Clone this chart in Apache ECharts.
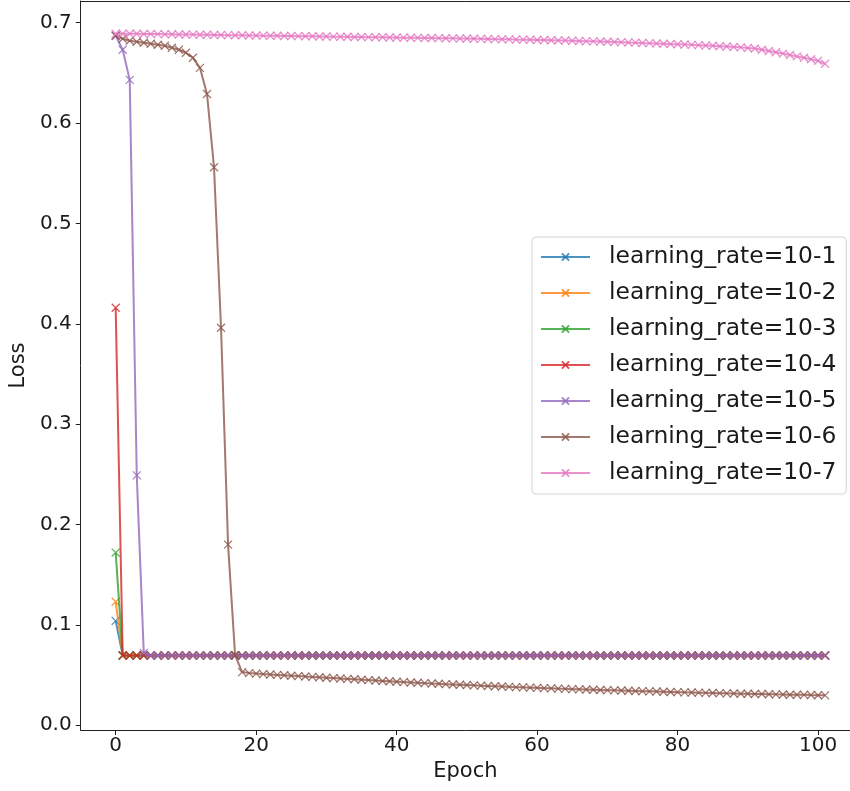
<!DOCTYPE html>
<html>
<head>
<meta charset="utf-8">
<script src="https://cdn.jsdelivr.net/npm/echarts@6/dist/echarts.min.js"></script>
<style>html,body{margin:0;padding:0;background:#fff;}#c{width:850px;height:791px;}</style>
</head>
<body>
<div id="c"></div>
<script>
const epochs = [0,1,2,3,4,5,6,7,8,9,10,11,12,13,14,15,16,17,18,19,20,21,22,23,24,25,26,27,28,29,30,31,32,33,34,35,36,37,38,39,40,41,42,43,44,45,46,47,48,49,50,51,52,53,54,55,56,57,58,59,60,61,62,63,64,65,66,67,68,69,70,71,72,73,74,75,76,77,78,79,80,81,82,83,84,85,86,87,88,89,90,91,92,93,94,95,96,97,98,99,100,101];

const seriesNames = ['learning_rate=10-1','learning_rate=10-2','learning_rate=10-3','learning_rate=10-4','learning_rate=10-5','learning_rate=10-6','learning_rate=10-7'];

const lr1 = [0.104,0.0695,0.0695,0.0695,0.0695,0.0695,0.0695,0.0695,0.0695,0.0695,0.0695,0.0695,0.0695,0.0695,0.0695,0.0695,0.0695,0.0695,0.0695,0.0695,0.0695,0.0695,0.0695,0.0695,0.0695,0.0695,0.0695,0.0695,0.0695,0.0695,0.0695,0.0695,0.0695,0.0695,0.0695,0.0695,0.0695,0.0695,0.0695,0.0695,0.0695,0.0695,0.0695,0.0695,0.0695,0.0695,0.0695,0.0695,0.0695,0.0695,0.0695,0.0695,0.0695,0.0695,0.0695,0.0695,0.0695,0.0695,0.0695,0.0695,0.0695,0.0695,0.0695,0.0695,0.0695,0.0695,0.0695,0.0695,0.0695,0.0695,0.0695,0.0695,0.0695,0.0695,0.0695,0.0695,0.0695,0.0695,0.0695,0.0695,0.0695,0.0695,0.0695,0.0695,0.0695,0.0695,0.0695,0.0695,0.0695,0.0695,0.0695,0.0695,0.0695,0.0695,0.0695,0.0695,0.0695,0.0695,0.0695,0.0695,0.0695,0.0695];
const lr2 = [0.123,0.0695,0.0695,0.0695,0.0695,0.0695,0.0695,0.0695,0.0695,0.0695,0.0695,0.0695,0.0695,0.0695,0.0695,0.0695,0.0695,0.0695,0.0695,0.0695,0.0695,0.0695,0.0695,0.0695,0.0695,0.0695,0.0695,0.0695,0.0695,0.0695,0.0695,0.0695,0.0695,0.0695,0.0695,0.0695,0.0695,0.0695,0.0695,0.0695,0.0695,0.0695,0.0695,0.0695,0.0695,0.0695,0.0695,0.0695,0.0695,0.0695,0.0695,0.0695,0.0695,0.0695,0.0695,0.0695,0.0695,0.0695,0.0695,0.0695,0.0695,0.0695,0.0695,0.0695,0.0695,0.0695,0.0695,0.0695,0.0695,0.0695,0.0695,0.0695,0.0695,0.0695,0.0695,0.0695,0.0695,0.0695,0.0695,0.0695,0.0695,0.0695,0.0695,0.0695,0.0695,0.0695,0.0695,0.0695,0.0695,0.0695,0.0695,0.0695,0.0695,0.0695,0.0695,0.0695,0.0695,0.0695,0.0695,0.0695,0.0695,0.0695];
const lr3 = [0.172,0.0695,0.0695,0.0695,0.0695,0.0695,0.0695,0.0695,0.0695,0.0695,0.0695,0.0695,0.0695,0.0695,0.0695,0.0695,0.0695,0.0695,0.0695,0.0695,0.0695,0.0695,0.0695,0.0695,0.0695,0.0695,0.0695,0.0695,0.0695,0.0695,0.0695,0.0695,0.0695,0.0695,0.0695,0.0695,0.0695,0.0695,0.0695,0.0695,0.0695,0.0695,0.0695,0.0695,0.0695,0.0695,0.0695,0.0695,0.0695,0.0695,0.0695,0.0695,0.0695,0.0695,0.0695,0.0695,0.0695,0.0695,0.0695,0.0695,0.0695,0.0695,0.0695,0.0695,0.0695,0.0695,0.0695,0.0695,0.0695,0.0695,0.0695,0.0695,0.0695,0.0695,0.0695,0.0695,0.0695,0.0695,0.0695,0.0695,0.0695,0.0695,0.0695,0.0695,0.0695,0.0695,0.0695,0.0695,0.0695,0.0695,0.0695,0.0695,0.0695,0.0695,0.0695,0.0695,0.0695,0.0695,0.0695,0.0695,0.0695,0.0695];
const lr4 = [0.416,0.0695,0.0695,0.0695,0.0695,0.0695,0.0695,0.0695,0.0695,0.0695,0.0695,0.0695,0.0695,0.0695,0.0695,0.0695,0.0695,0.0695,0.0695,0.0695,0.0695,0.0695,0.0695,0.0695,0.0695,0.0695,0.0695,0.0695,0.0695,0.0695,0.0695,0.0695,0.0695,0.0695,0.0695,0.0695,0.0695,0.0695,0.0695,0.0695,0.0695,0.0695,0.0695,0.0695,0.0695,0.0695,0.0695,0.0695,0.0695,0.0695,0.0695,0.0695,0.0695,0.0695,0.0695,0.0695,0.0695,0.0695,0.0695,0.0695,0.0695,0.0695,0.0695,0.0695,0.0695,0.0695,0.0695,0.0695,0.0695,0.0695,0.0695,0.0695,0.0695,0.0695,0.0695,0.0695,0.0695,0.0695,0.0695,0.0695,0.0695,0.0695,0.0695,0.0695,0.0695,0.0695,0.0695,0.0695,0.0695,0.0695,0.0695,0.0695,0.0695,0.0695,0.0695,0.0695,0.0695,0.0695,0.0695,0.0695,0.0695,0.0695];
const lr5 = [0.687,0.673,0.643,0.249,0.072,0.0695,0.0695,0.0695,0.0695,0.0695,0.0695,0.0695,0.0695,0.0695,0.0695,0.0695,0.0695,0.0695,0.0695,0.0695,0.0695,0.0695,0.0695,0.0695,0.0695,0.0695,0.0695,0.0695,0.0695,0.0695,0.0695,0.0695,0.0695,0.0695,0.0695,0.0695,0.0695,0.0695,0.0695,0.0695,0.0695,0.0695,0.0695,0.0695,0.0695,0.0695,0.0695,0.0695,0.0695,0.0695,0.0695,0.0695,0.0695,0.0695,0.0695,0.0695,0.0695,0.0695,0.0695,0.0695,0.0695,0.0695,0.0695,0.0695,0.0695,0.0695,0.0695,0.0695,0.0695,0.0695,0.0695,0.0695,0.0695,0.0695,0.0695,0.0695,0.0695,0.0695,0.0695,0.0695,0.0695,0.0695,0.0695,0.0695,0.0695,0.0695,0.0695,0.0695,0.0695,0.0695,0.0695,0.0695,0.0695,0.0695,0.0695,0.0695,0.0695,0.0695,0.0695,0.0695,0.0695,0.0695];
const lr6 = [0.687,0.684,0.682,0.681,0.680,0.679,0.678,0.677,0.675,0.673,0.670,0.665,0.655,0.629,0.556,0.396,0.180,0.070,0.053,0.052,0.0515,0.051,0.0506,0.0502,0.0498,0.0494,0.049,0.0486,0.0482,0.0478,0.0474,0.047,0.0466,0.0462,0.0458,0.0454,0.045,0.0446,0.0442,0.0438,0.0434,0.043,0.0427,0.0423,0.042,0.0416,0.0413,0.041,0.0407,0.0404,0.0401,0.0398,0.0395,0.0392,0.0389,0.0386,0.0383,0.038,0.0378,0.0375,0.0373,0.037,0.0368,0.0365,0.0363,0.036,0.0358,0.0356,0.0354,0.0352,0.035,0.0348,0.0346,0.0344,0.0342,0.034,0.0338,0.0336,0.0334,0.0332,0.033,0.0328,0.0327,0.0325,0.0323,0.0322,0.032,0.0318,0.0317,0.0315,0.0314,0.0312,0.0311,0.031,0.0308,0.0307,0.0305,0.0304,0.0303,0.0301,0.030,0.0298];
const lr7 = [0.689,0.689,0.689,0.6889,0.6888,0.6887,0.6886,0.6885,0.6884,0.6883,0.6882,0.6881,0.688,0.6879,0.6878,0.6877,0.6876,0.6875,0.6874,0.6873,0.6872,0.6871,0.687,0.6869,0.6868,0.6867,0.6866,0.6865,0.6864,0.6863,0.6862,0.6861,0.686,0.6859,0.6858,0.6857,0.6856,0.6855,0.6854,0.6853,0.6852,0.6851,0.685,0.6849,0.6848,0.6847,0.6846,0.6845,0.6844,0.6843,0.6842,0.684,0.6839,0.6838,0.6836,0.6835,0.6834,0.6832,0.6831,0.683,0.6828,0.6827,0.6825,0.6823,0.6822,0.682,0.6818,0.6816,0.6814,0.6812,0.681,0.6808,0.6806,0.6803,0.6801,0.6798,0.6796,0.6793,0.679,0.6787,0.6785,0.6782,0.6779,0.6776,0.6773,0.677,0.6766,0.6762,0.6758,0.6754,0.6748,0.6742,0.673,0.6718,0.6705,0.6692,0.6678,0.6664,0.665,0.6635,0.662,0.659];

const xTicks = [0,20,40,60,80,100];
const yTicks = [0,0.1,0.2,0.3,0.4,0.5,0.6,0.7];
const colors = ['#1f77b4','#ff7f0e','#2ca02c','#d62728','#9467bd','#8c564b','#e377c2'];
const allValues = [lr1,lr2,lr3,lr4,lr5,lr6,lr7];

const FONT = 'DejaVu Sans';
const xSym = 'path://M0,0L10,10M10,0L0,10';
const X_MIN = -4.98, X_MAX = 104.55;

const chart = echarts.init(document.getElementById('c'), null, {renderer:'canvas'});
const series = allValues.map((vals, i) => ({
  name: seriesNames[i],
  type: 'line',
  data: epochs.map((e, k) => [e, vals[k]]),
  symbol: xSym,
  symbolSize: 8,
  showSymbol: true,
  showAllSymbol: true,
  lineStyle: {color: colors[i], width: 2, opacity: 0.8},
  itemStyle: {color: 'rgba(0,0,0,0)', borderColor: colors[i], borderWidth: 1.3, opacity: 0.8},
  emphasis: {disabled: true},
  z: 2 + i
}));

chart.setOption({
  animation: false,
  backgroundColor: '#fff',
  grid: {left: 80, right: 0, top: 1, bottom: 61, show: false},
  xAxis: [{
    type: 'value', min: X_MIN, max: X_MAX, position: 'bottom',
    name: 'Epoch', nameLocation: 'middle', nameGap: 31,
    nameTextStyle: {fontFamily: FONT, fontSize: 21, color: '#1a1a1a'},
    axisLine: {show: true, onZero: false, lineStyle: {color: '#222', width: 1}},
    axisTick: {show: true, length: 5, lineStyle: {color: '#222'}, customValues: xTicks},
    axisLabel: {fontFamily: FONT, fontSize: 20, color: '#1a1a1a', margin: 6, customValues: xTicks},
    splitLine: {show: false}
  }, {
    type: 'value', min: X_MIN, max: X_MAX, position: 'top',
    axisLine: {show: true, onZero: false, lineStyle: {color: '#222', width: 1}},
    axisTick: {show: false}, axisLabel: {show: false}, splitLine: {show: false}
  }],
  yAxis: {
    type: 'value', min: -0.0047, max: 0.7216,
    name: 'Loss', nameLocation: 'middle', nameGap: 49,
    nameTextStyle: {fontFamily: FONT, fontSize: 21, color: '#1a1a1a'},
    axisLine: {show: true, onZero: false, lineStyle: {color: '#222', width: 1}},
    axisTick: {show: true, length: 5, lineStyle: {color: '#222'}, customValues: yTicks},
    axisLabel: {fontFamily: FONT, fontSize: 20, color: '#1a1a1a', margin: 9, customValues: yTicks, formatter: v => v.toFixed(1)},
    splitLine: {show: false}
  },
  legend: {
    orient: 'vertical', left: 532, top: 237,
    padding: [6, 10, 7, 8],
    itemWidth: 49, itemHeight: 9, itemGap: 8,
    backgroundColor: 'rgba(255,255,255,0.8)',
    borderColor: '#d5d5d5', borderWidth: 1, borderRadius: 4,
    textStyle: {fontFamily: FONT, fontSize: 23.4, color: '#1a1a1a', lineHeight: 28, padding: [0,0,0,14]},
    data: seriesNames
  },
  series: series
});
</script>
</body>
</html>
